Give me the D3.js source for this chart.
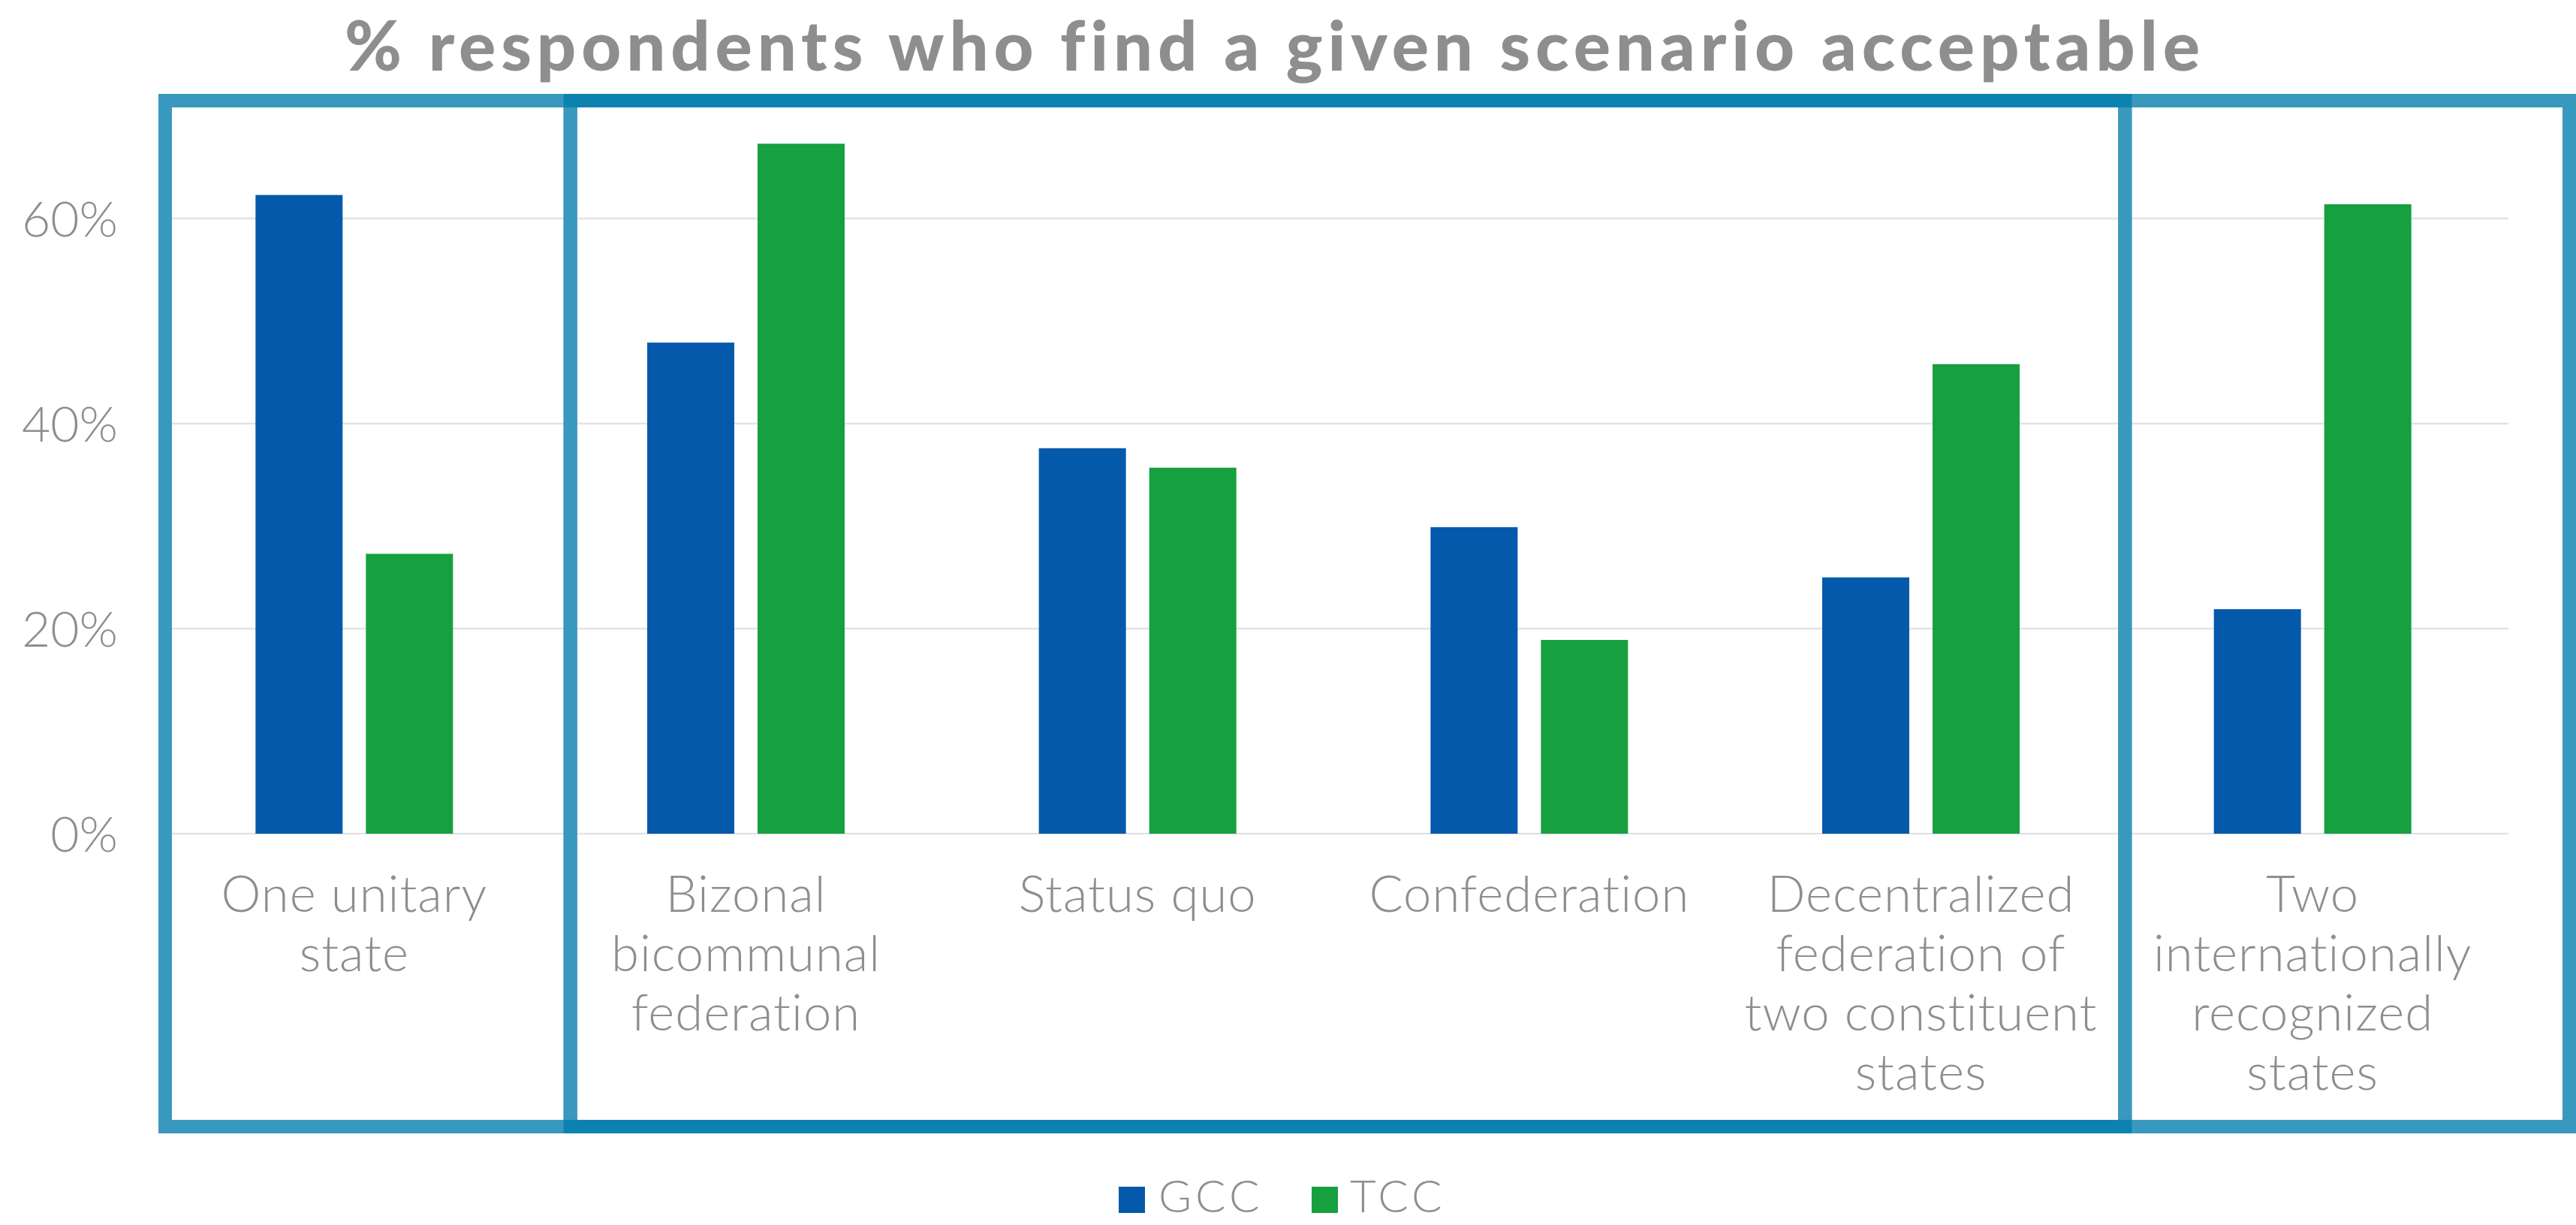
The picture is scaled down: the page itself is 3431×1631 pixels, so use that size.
<!DOCTYPE html>
<html>
<head>
<meta charset="utf-8">
<script src="https://cdn.jsdelivr.net/npm/d3@7"></script>
<style>
  html, body { margin: 0; padding: 0; background: #ffffff; }
  svg { display: block; }
  text { font-family: Lato, "Open Sans", sans-serif; }
</style>
</head>
<body>
<script>
// Share of respondents (%) who find each settlement scenario acceptable
const categories = [
  "One unitary state",
  "Bizonal bicommunal federation",
  "Status quo",
  "Confederation",
  "Decentralized federation of two constituent states",
  "Two internationally recognized states"
];
const categoryLines = [
  ["One unitary", "state"],
  ["Bizonal", "bicommunal", "federation"],
  ["Status quo"],
  ["Confederation"],
  ["Decentralized", "federation of", "two constituent", "states"],
  ["Two", "internationally", "recognized", "states"]
];
const series = ["GCC", "TCC"];
const gccValues = [62.3, 47.9, 37.6, 29.9, 25.0, 21.9];
const tccValues = [27.3, 67.3, 35.7, 18.9, 45.8, 61.4];
const yTicks = [0, 20, 40, 60];
const titleText = "% respondents who find a given scenario acceptable";
// Category groups outlined by the framing boxes: [first index, last index]
const boxGroups = [[0, 0], [1, 4], [5, 5]];

const W = 3431, H = 1631;
const colors = { GCC: "#0559ab", TCC: "#16a03f" };
const textGrey = "#8e8e8e";

const svg = d3.select("body").append("svg")
  .attr("width", W).attr("height", H);

const x0 = d3.scaleBand().domain(categories).range([211, 3341]).padding(0);
const groupW = 263;
const x1 = d3.scaleBand().domain(series).range([0, groupW]).paddingInner(0.211).paddingOuter(0);
const y = d3.scaleLinear().domain([0, 60]).range([1110, 291]);

// Horizontal gridlines
svg.append("g").selectAll("line").data(yTicks).join("line")
  .attr("x1", x0.range()[0]).attr("x2", x0.range()[1])
  .attr("y1", d => y(d)).attr("y2", d => y(d))
  .attr("stroke", "#e3e3e3").attr("stroke-width", 2.5);

// Y tick labels
svg.append("g").selectAll("text").data(yTicks).join("text")
  .attr("x", 157).attr("y", d => y(d) + 24)
  .attr("text-anchor", "end")
  .attr("font-size", 66).attr("font-weight", 300).attr("fill", textGrey)
  .text(d => d + "%");

// Bars
const rows = categories.map((c, i) => ({ cat: c, GCC: gccValues[i], TCC: tccValues[i] }));
const groups = svg.append("g").selectAll("g").data(rows).join("g")
  .attr("transform", d => `translate(${x0(d.cat) + (x0.bandwidth() - groupW) / 2},0)`);
groups.selectAll("rect").data(d => series.map(s => ({ s, v: d[s] }))).join("rect")
  .attr("x", d => x1(d.s)).attr("width", x1.bandwidth())
  .attr("y", d => y(d.v)).attr("height", d => y(0) - y(d.v))
  .attr("fill", d => colors[d.s]);

// Category labels
const labelG = svg.append("g").selectAll("text").data(categories).join("text")
  .attr("text-anchor", "middle")
  .attr("font-size", 67).attr("font-weight", 300).attr("fill", textGrey)
  .attr("letter-spacing", 1)
  .attr("transform", d => `translate(${x0(d) + x0.bandwidth() / 2},1214)`);
labelG.selectAll("tspan").data((d, i) => categoryLines[i]).join("tspan")
  .attr("x", 0).attr("y", (d, j) => j * 79)
  .text(d => d);

// Framing boxes around category groups
const lightBlue = "#3998bd", darkBlue = "#0c82b0";
const edgeNudge = [9, 27, 27, 27, 27, 11, 81];
const bounds = d3.range(categories.length + 1).map(k => x0.range()[0] + k * x0.step() + edgeNudge[k]);
const boxTop = 134, boxBottom = 1500, boxStroke = 18;
const boxes = boxGroups.map(([a, b], i) => ({
  x1: bounds[a], x2: bounds[b + 1], color: i === 1 ? darkBlue : lightBlue
}));
const boxLayer = svg.append("g");
// middle box first, then the outer boxes, then the middle box's horizontals on top
const order = [boxes[1], boxes[0], boxes[2]];
boxLayer.selectAll("rect").data(order).join("rect")
  .attr("x", d => d.x1).attr("y", boxTop)
  .attr("width", d => d.x2 - d.x1).attr("height", boxBottom - boxTop)
  .attr("fill", "none").attr("stroke", d => d.color).attr("stroke-width", boxStroke);
boxLayer.selectAll("line").data([boxTop, boxBottom]).join("line")
  .attr("x1", boxes[1].x1 - boxStroke / 2).attr("x2", boxes[1].x2 + boxStroke / 2)
  .attr("y1", d => d).attr("y2", d => d)
  .attr("stroke", darkBlue).attr("stroke-width", boxStroke);

// Title, widened with letter-spacing to the frame's span
const title = svg.append("text")
  .attr("x", 1698).attr("y", 94)
  .attr("text-anchor", "middle")
  .attr("font-size", 92).attr("font-weight", 900)
  .attr("fill", textGrey)
  .text(titleText);
const targetW = 2477;
const measured = title.node().getComputedTextLength();
title.attr("letter-spacing", Math.max(0, (targetW - measured) / titleText.length));

// Legend
const legend = svg.append("g");
const legendItems = [{ s: "GCC", sx: 1490, tx: 1543 }, { s: "TCC", sx: 1747, tx: 1798 }];
legend.selectAll("rect").data(legendItems).join("rect")
  .attr("x", d => d.sx).attr("y", 1580).attr("width", 35).attr("height", 35)
  .attr("fill", d => colors[d.s]);
legend.selectAll("text").data(legendItems).join("text")
  .attr("x", d => d.tx).attr("y", 1614)
  .attr("font-size", 60).attr("font-weight", 300).attr("fill", textGrey)
  .attr("letter-spacing", 5)
  .text(d => d.s);
</script>
</body>
</html>
